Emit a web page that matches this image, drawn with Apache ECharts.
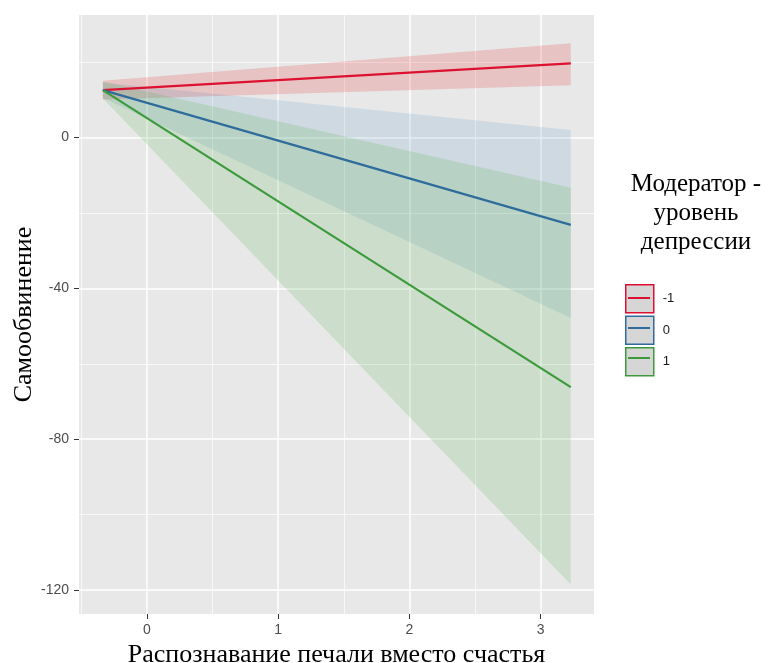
<!DOCTYPE html>
<html>
<head>
<meta charset="utf-8">
<script src="https://cdn.jsdelivr.net/npm/echarts@6/dist/echarts.min.js"></script>
<style>
    html, body { margin: 0; padding: 0; background: #fff; }
    #chart { width: 771px; height: 663px; }
</style>
</head>
<body>
<div id="chart"></div>
<script>
// данные: концы линий и доверительных полос
var xEnds = [-0.336, 3.23];
var groups = ['-1', '0', '1'];
var colors = ['#dc1030', '#2f6b9b', '#3c9a3c'];
var fills = ['rgba(228,26,28,0.18)', 'rgba(55,126,184,0.14)', 'rgba(77,175,74,0.18)'];

var lineM1 = [12.5, 19.6];
var line0 = [12.5, -23.2];
var lineP1 = [12.5, -66.2];

var lowM1 = [10.0, 13.8];
var upM1 = [15.0, 24.9];
var low0 = [10.5, -47.9];
var up0 = [14.5, 1.9];
var lowP1 = [10.3, -118.5];
var upP1 = [14.8, -13.4];

var xMajor = [0, 1, 2, 3];
var xMinor = [-0.5, 0.5, 1.5, 2.5];
var yMajor = [0, -40, -80, -120];
var yMinor = [20, -20, -60, -100];

(function () {
    var myChart = echarts.init(document.getElementById('chart'));

    var lines = [lineM1, line0, lineP1];
    var lows = [lowM1, low0, lowP1];
    var ups = [upM1, up0, upP1];

    function pts(arr) {
        return arr.map(function (v, i) { return [xEnds[i], v]; });
    }

    var series = [];
    // доверительные полосы - многоугольник через api.coord
    for (var g = 0; g < 3; g++) {
        series.push({
            name: 'band' + g,
            type: 'custom',
            silent: true,
            z: 2,
            data: [[xEnds[0], lows[g][0], ups[g][0], xEnds[1], lows[g][1], ups[g][1]]],
            encode: { x: [0, 3], y: [1, 2, 4, 5] },
            renderItem: (function (fill) {
                return function (params, api) {
                    var pts = [
                        api.coord([api.value(0), api.value(1)]),
                        api.coord([api.value(3), api.value(4)]),
                        api.coord([api.value(3), api.value(5)]),
                        api.coord([api.value(0), api.value(2)])
                    ];
                    return {
                        type: 'polygon',
                        shape: { points: pts },
                        style: { fill: fill }
                    };
                };
            })(fills[g])
        });
    }
    // линии регрессии
    for (var k = 0; k < 3; k++) {
        series.push({
            name: groups[k],
            type: 'line',
            data: pts(lines[k]),
            symbol: 'none',
            color: colors[k],
            lineStyle: { color: colors[k], width: 2.2 },
            z: 3
        });
    }

    var tickLabel = { color: '#4d4d4d', fontSize: 14, fontFamily: 'Liberation Sans' };
    var titleFont = { fontFamily: 'Liberation Serif', fontSize: 26, color: '#000' };

    var option = {
        animation: false,
        backgroundColor: '#fff',
        grid: {
            left: 79, right: 177, top: 15, bottom: 49,
            outerBoundsMode: 'none',
            show: true, backgroundColor: '#e8e8e8', borderWidth: 0
        },
        xAxis: [{
            type: 'value', min: -0.518, max: 3.407,
            name: 'Распознавание печали вместо счастья',
            nameLocation: 'middle', nameGap: 24,
            nameTextStyle: titleFont,
            axisLine: { show: false, onZero: false },
            axisTick: { show: true, customValues: xMajor, length: 5, lineStyle: { color: '#333' } },
            axisLabel: Object.assign({ customValues: xMajor, margin: 9 }, tickLabel),
            splitLine: { show: true, lineStyle: { color: '#fff', width: 1.5 } }
        }, {
            type: 'value', min: -0.518, max: 3.407,
            axisLine: { show: false, onZero: false },
            axisTick: { show: false, customValues: xMinor },
            axisLabel: { show: false },
            splitLine: { show: true, lineStyle: { color: '#fff', width: 0.7 } }
        }],
        yAxis: [{
            type: 'value', min: -126.3, max: 32.4,
            name: 'Самообвинение',
            nameLocation: 'middle', nameGap: 42,
            nameMoveOverlap: false,
            nameTextStyle: titleFont,
            axisLine: { show: false, onZero: false },
            axisTick: { show: true, customValues: yMajor, length: 5, lineStyle: { color: '#333' } },
            axisLabel: Object.assign({ customValues: yMajor, margin: 10 }, tickLabel),
            splitLine: { show: true, lineStyle: { color: '#fff', width: 1.5 } }
        }, {
            type: 'value', min: -126.3, max: 32.4,
            axisLine: { show: false, onZero: false },
            axisTick: { show: false, customValues: yMinor },
            axisLabel: { show: false },
            splitLine: { show: true, lineStyle: { color: '#fff', width: 0.7 } }
        }],
        legend: [{
            orient: 'vertical', left: 625, top: 284, padding: 0,
            itemWidth: 28, itemHeight: 28, itemGap: 2,
            icon: 'rect', selectedMode: false,
            textStyle: { fontSize: 13, color: '#1a1a1a', fontFamily: 'Liberation Sans', padding: [0, 0, 0, 4] },
            data: groups.map(function (n, i) {
                return { name: n, itemStyle: { color: '#d6d6d6', borderColor: colors[i], borderWidth: 1.5 } };
            })
        }, {
            orient: 'vertical', left: 625, top: 284, padding: 0,
            itemWidth: 28, itemHeight: 28, itemGap: 2,
            icon: 'path://M0,0L0.05,0L0,0.05Z M3,13.1H25V14.9H3Z M28,28L27.95,28L28,27.95Z',
            selectedMode: false,
            textStyle: { fontSize: 13, color: 'rgba(0,0,0,0)', fontFamily: 'Liberation Sans', padding: [0, 0, 0, 4] },
            data: groups.map(function (n, i) {
                return { name: n, itemStyle: { color: colors[i] } };
            })
        }],
        graphic: [{
            type: 'text',
            x: 696, y: 170,
            style: {
                text: 'Модератор -\nуровень\nдепрессии',
                align: 'center', verticalAlign: 'top',
                fontFamily: 'Liberation Serif', fontSize: 25, lineHeight: 29,
                fill: '#000'
            }
        }],
        series: series
    };

    myChart.setOption(option);
    window.addEventListener('resize', function () {
        myChart.resize();
    });
})();
</script>
</body>
</html>
